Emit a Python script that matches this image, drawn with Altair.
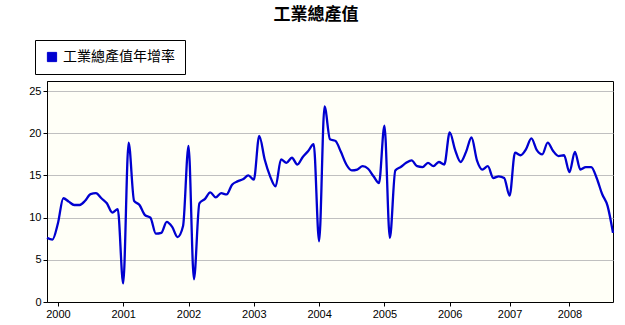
import altair as alt
import pandas as pd

series_name = "工業總產值年增率"
chart_title = "工業總產值"

# monthly year-on-year growth (%); from 2006 Jan-Feb is one combined point
y1999 = [7.6, 7.4]
y2000 = [9.3, 12.3, 11.9, 11.5, 11.5, 12.0, 12.8, 12.9, 12.3, 11.7, 10.6, 11.0]
y2001 = [2.2, 18.9, 12.0, 11.5, 10.3, 10.0, 8.1, 8.2, 9.5, 8.9, 7.7, 9.0]
y2002 = [18.5, 2.7, 11.7, 12.2, 13.0, 12.4, 12.9, 12.75, 13.9, 14.3, 14.55, 15.0]
y2003 = [14.5, 19.7, 16.9, 14.9, 13.7, 16.9, 16.5, 17.1, 16.3, 17.2, 17.9, 18.7]
y2004 = [7.2, 23.2, 19.3, 19.1, 17.8, 16.3, 15.6, 15.7, 16.1, 15.8, 14.9, 14.1]
y2005 = [20.9, 7.6, 15.6, 16.0, 16.5, 16.8, 16.1, 16.0, 16.5, 16.1, 16.6, 16.3]
y2006 = [20.1, 18.0, 16.6, 17.8, 19.5, 16.8, 15.7, 16.1, 14.7, 14.9, 14.7]
y2007 = [12.6, 17.7, 17.4, 18.1, 19.4, 18.0, 17.5, 18.9, 17.9, 17.3, 17.4]
y2008 = [15.4, 17.8, 15.7, 16.0, 16.0, 14.7, 12.8, 11.4, 8.2]

years = ["1999", "2000", "2001", "2002", "2003", "2004", "2005", "2006", "2007", "2008"]
blocks = [y1999, y2000, y2001, y2002, y2003, y2004, y2005, y2006, y2007, y2008]

values = []
tick_idx = []
tick_lab = []
for yr, blk in zip(years, blocks):
    if yr != "1999":
        tick_idx.append(len(values))
        tick_lab.append(yr)
    values.extend(blk)

df = pd.DataFrame({"i": list(range(len(values))), "v": values, "s": series_name})

lab_expr = "[" + ",".join("'%s'" % t for t in tick_lab) + "][indexof([" + ",".join(str(t) for t in tick_idx) + "], datum.value)]"

axis_font = "Liberation Sans"

chart = alt.Chart(df).mark_line(
    interpolate="monotone", strokeWidth=2.3
).encode(
    x=alt.X("i:Q",
            scale=alt.Scale(domain=[0, len(values) - 1], nice=False, zero=False),
            axis=alt.Axis(values=tick_idx, labelExpr=lab_expr, grid=False, title=None,
                          domainColor="black", tickColor="black", tickSize=4,
                          labelFont=axis_font, labelFontSize=11, labelColor="black",
                          labelPadding=2, labelFlush=False)),
    y=alt.Y("v:Q",
            scale=alt.Scale(domain=[0, 26.2], nice=False, zero=True),
            axis=alt.Axis(values=[0, 5, 10, 15, 20, 25], grid=True, gridColor="#c0c0c0",
                          title=None, domainColor="black", tickColor="black", tickSize=4,
                          labelFont=axis_font, labelFontSize=11, labelColor="black",
                          labelPadding=2)),
    color=alt.Color("s:N", scale=alt.Scale(range=["#0000d0"]),
                    legend=alt.Legend(title=None, orient="none", legendX=-12, legendY=-41,
                                      strokeColor="black", fillColor="white", padding=10,
                                      labelFont="Noto Sans CJK TC", labelFontSize=14,
                                      labelColor="black", labelOffset=4,
                                      symbolType="square", symbolSize=85,
                                      symbolFillColor="#0000d0",
                                      symbolStrokeColor="#000000",
                                      symbolStrokeWidth=1, symbolOpacity=1)),
).properties(
    width=566,
    height=221,
    title=alt.TitleParams(chart_title, font="Noto Sans CJK TC", fontSize=17, fontWeight="bold",
                          color="black", anchor="middle", frame="group", dx=-14, offset=16),
    autosize=alt.AutoSizeParams(type="none"),
    padding={"left": 47, "top": 81, "right": 12, "bottom": 23},
    background="white",
).configure_view(
    stroke="black", strokeWidth=1, fill="#fffff7"
)

chart.save("out.html", embed_options={"renderer": "svg", "actions": False})
